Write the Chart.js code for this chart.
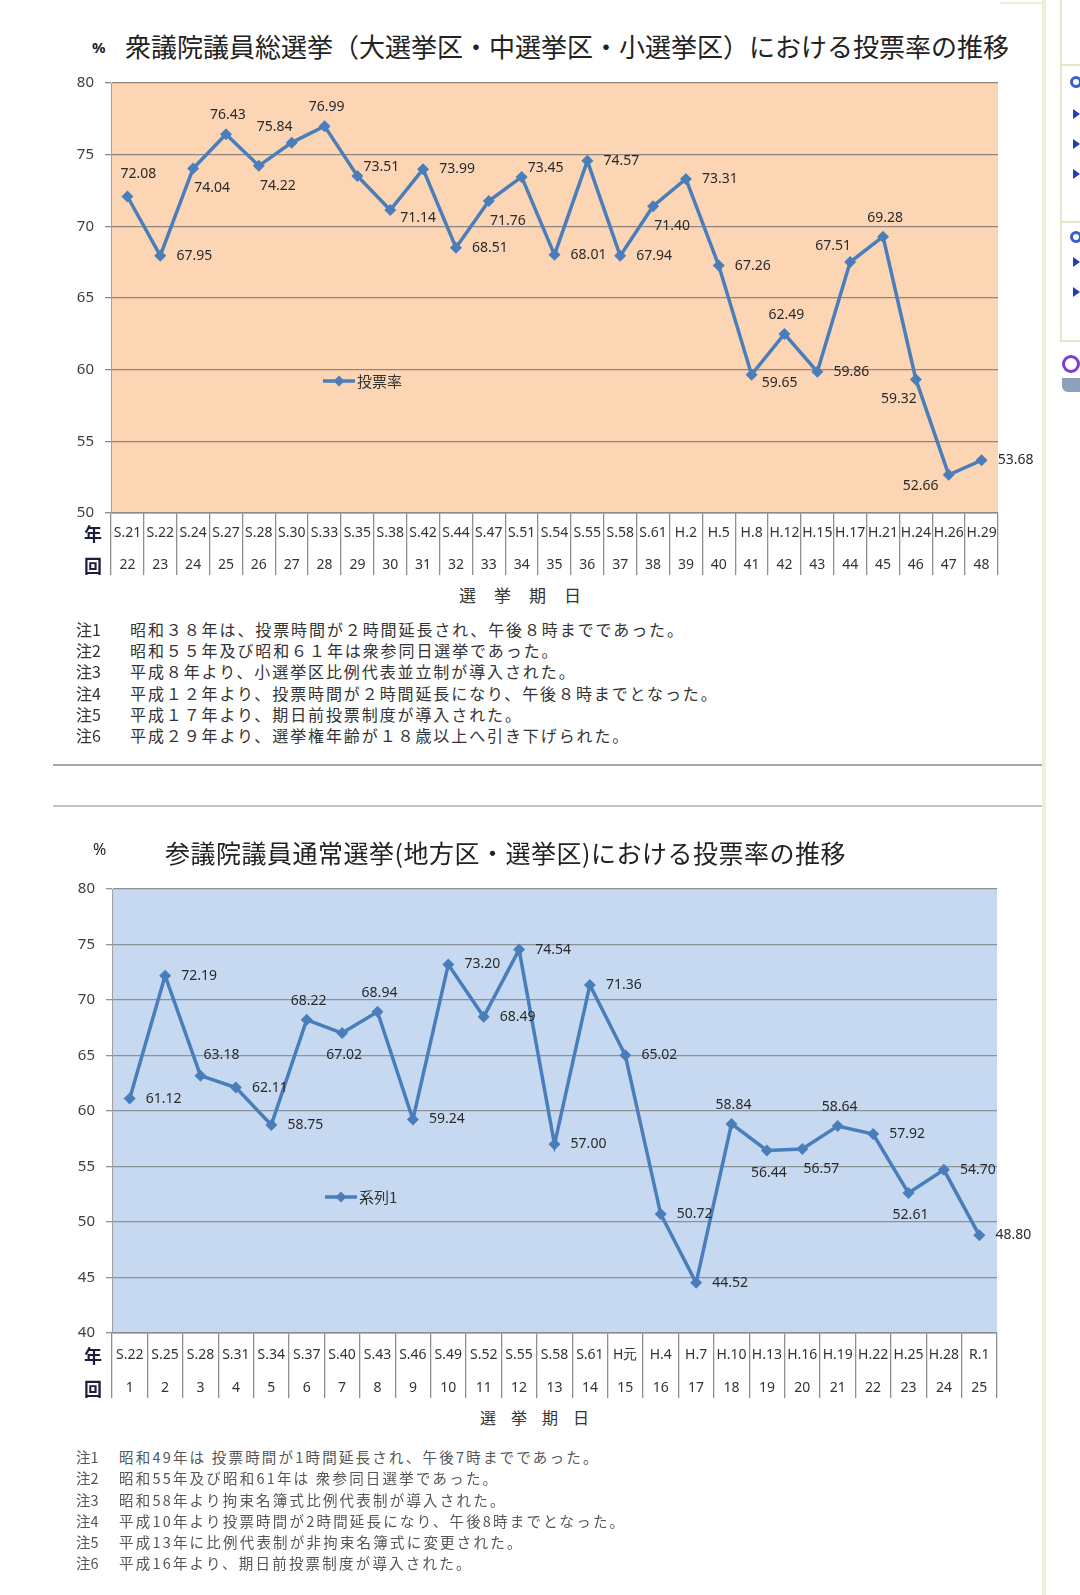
<!DOCTYPE html>
<html>
<head>
<meta charset="utf-8">
<script src="https://cdn.jsdelivr.net/npm/chart.js@4.4.0/dist/chart.umd.min.js"></script>
<style>
  body { margin: 0; background: #fff; width: 1080px; height: 1595px; position: relative; overflow: hidden;
         font-family: "Noto Sans CJK JP", sans-serif; color: #222; }
  .abs { position: absolute; white-space: nowrap; }
  .pct { font-family: "Noto Sans", sans-serif; font-weight: bold; font-size: 15px; }
  .rowhead { font-weight: bold; font-size: 18px; line-height: 22px; color: #1c1c3c; }
  .notes1 div { font-size: 16px; line-height: 21.2px; letter-spacing: 1.9px; color: #333; height: 21.2px; }
  .notes2 div { font-size: 14.5px; line-height: 21.3px; letter-spacing: 2.2px; color: #555; height: 21.3px; }
  .notes1 span, .notes2 span { position: absolute; }
  .box { position: absolute; }
</style>
</head>
<body>

<div class="abs pct" style="left:92px; top:37px;">%</div>
<div class="abs" style="left:125px; top:28px; font-size:26px; line-height:36px;">衆議院議員総選挙（大選挙区・中選挙区・小選挙区）における投票率の推移</div>
<div class="box" style="left:0; top:60px; width:1043px; height:520px;"><canvas id="shuChart"></canvas></div>
<div class="abs rowhead" style="left:84px; top:522px;">年</div>
<div class="abs rowhead" style="left:84px; top:554px;">回</div>
<div class="abs" style="left:459px; top:584px; font-size:17px; line-height:22px; letter-spacing:18px; color:#333;">選挙期日</div>

<div class="abs notes1" style="left:0; top:619px;">
  <div><span style="left:76px; letter-spacing:0;">注1</span><span style="left:130px;">昭和３８年は、投票時間が２時間延長され、午後８時までであった。</span></div>
  <div><span style="left:76px; letter-spacing:0;">注2</span><span style="left:130px;">昭和５５年及び昭和６１年は衆参同日選挙であった。</span></div>
  <div><span style="left:76px; letter-spacing:0;">注3</span><span style="left:130px;">平成８年より、小選挙区比例代表並立制が導入された。</span></div>
  <div><span style="left:76px; letter-spacing:0;">注4</span><span style="left:130px;">平成１２年より、投票時間が２時間延長になり、午後８時までとなった。</span></div>
  <div><span style="left:76px; letter-spacing:0;">注5</span><span style="left:130px;">平成１７年より、期日前投票制度が導入された。</span></div>
  <div><span style="left:76px; letter-spacing:0;">注6</span><span style="left:130px;">平成２９年より、選挙権年齢が１８歳以上へ引き下げられた。</span></div>
</div>

<div class="box" style="left:53px; top:764px; width:990px; height:2px; background:#a8a8a8;"></div>
<div class="box" style="left:53px; top:805px; width:990px; height:2px; background:#c4c4c4;"></div>

<div class="abs pct" style="left:93px; top:838px; font-weight:normal; font-size:16px;">%</div>
<div class="abs" style="left:165px; top:836px; font-size:25px; line-height:32px; letter-spacing:0.5px;">参議院議員通常選挙(地方区・選挙区)における投票率の推移</div>
<div class="box" style="left:0; top:860px; width:1043px; height:543px;"><canvas id="sanChart"></canvas></div>
<div class="abs rowhead" style="left:84px; top:1344px;">年</div>
<div class="abs rowhead" style="left:84px; top:1377px;">回</div>
<div class="abs" style="left:480px; top:1406px; font-size:16px; line-height:22px; letter-spacing:15px; color:#333;">選挙期日</div>

<div class="abs notes2" style="left:0; top:1446px;">
  <div><span style="left:76px; letter-spacing:0;">注1</span><span style="left:119px;">昭和49年は 投票時間が1時間延長され、午後7時までであった。</span></div>
  <div><span style="left:76px; letter-spacing:0;">注2</span><span style="left:119px;">昭和55年及び昭和61年は 衆参同日選挙であった。</span></div>
  <div><span style="left:76px; letter-spacing:0;">注3</span><span style="left:119px;">昭和58年より拘束名簿式比例代表制が導入された。</span></div>
  <div><span style="left:76px; letter-spacing:0;">注4</span><span style="left:119px;">平成10年より投票時間が2時間延長になり、午後8時までとなった。</span></div>
  <div><span style="left:76px; letter-spacing:0;">注5</span><span style="left:119px;">平成13年に比例代表制が非拘束名簿式に変更された。</span></div>
  <div><span style="left:76px; letter-spacing:0;">注6</span><span style="left:119px;">平成16年より、期日前投票制度が導入された。</span></div>
</div>

<!-- right page frame / sidebar -->
<div class="box" style="left:1042px; top:0; width:4px; height:1595px; background:#efefd8;"></div>
<div class="box" style="left:1000px; top:2px; width:43px; height:2px; background:#efefd8;"></div>
<div class="box" style="left:1060px; top:0; width:20px; height:340px; border-left:2px solid #e6e6c8; border-bottom:2px solid #e6e6c8;"></div>
<div class="box" style="left:1060px; top:64px; width:20px; height:2px; background:#e6e6c8;"></div>
<div class="box" style="left:1060px; top:221px; width:20px; height:2px; background:#e6e6c8;"></div>
<div class="box" style="left:1070px; top:76px; width:12px; height:12px; border-radius:50%; border:3px solid #3a5fcd; box-sizing:border-box;"></div>
<div class="box" style="left:1070px; top:231px; width:12px; height:12px; border-radius:50%; border:3px solid #3a5fcd; box-sizing:border-box;"></div>
<div class="box" style="left:1062px; top:355px; width:18px; height:18px; border-radius:50%; border:3px solid #7a3fd0; box-sizing:border-box;"></div>
<div class="box" style="left:1062px; top:378px; width:18px; height:14px; background:#8da0bc; border-radius:0 0 0 6px;"></div>
<div id="arrows"></div>

<script>
// 衆議院
const shuYears = ['S.21','S.22','S.24','S.27','S.28','S.30','S.33','S.35','S.38','S.42','S.44','S.47','S.51','S.54',
                  'S.55','S.58','S.61','H.2','H.5','H.8','H.12','H.15','H.17','H.21','H.24','H.26','H.29'];
const shuRounds = ['22','23','24','25','26','27','28','29','30','31','32','33','34','35',
                   '36','37','38','39','40','41','42','43','44','45','46','47','48'];
const shuRates = [72.08, 67.95, 74.04, 76.43, 74.22, 75.84, 76.99, 73.51, 71.14, 73.99, 68.51, 71.76, 73.45, 68.01,
                  74.57, 67.94, 71.40, 73.31, 67.26, 59.65, 62.49, 59.86, 67.51, 69.28, 59.32, 52.66, 53.68];
const shuLabelPos = ['a1','r','br','a','br','al','a','ra','rb','r','r','br','ra','r',
                     'r','r','br','r','r','rb','a','r','al','a','bl','bl2','r'];

// 参議院
const sanYears = ['S.22','S.25','S.28','S.31','S.34','S.37','S.40','S.43','S.46','S.49','S.52','S.55','S.58',
                  'S.61','H元','H.4','H.7','H.10','H.13','H.16','H.19','H.22','H.25','H.28','R.1'];
const sanRounds = ['1','2','3','4','5','6','7','8','9','10','11','12','13',
                   '14','15','16','17','18','19','20','21','22','23','24','25'];
const sanRates = [61.12, 72.19, 63.18, 62.11, 58.75, 68.22, 67.02, 68.94, 59.24, 73.20, 68.49, 74.54, 57.00,
                  71.36, 65.02, 50.72, 44.52, 58.84, 56.44, 56.57, 58.64, 57.92, 52.61, 54.70, 48.80];
const sanLabelPos = ['r','r','ar','r','r','a','b','a','r','r','r','r','r',
                     'r','r','r','r','a','b','br','a','r','b','r','r'];

const OFFSETS = {
  a: [2, -19], a1: [11, -23], b: [2, 22], r: [34, 0], ra: [24, -9], rb: [28, 8], br: [19, 20],
  al: [-17, -16], bl: [-17, 20], bl2: [-28, 11], ar: [21, -21]
};

const LINE_BLUE = '#4a7ebb';

Chart.defaults.font.family = '"Noto Sans", sans-serif';
Chart.defaults.animation = false;

// sidebar arrows
const arrowYs = [109, 139, 169, 257, 287];
document.getElementById('arrows').innerHTML = arrowYs.map(y =>
  '<div class="box" style="left:1073px; top:' + y + 'px; width:0; height:0; border-top:5px solid transparent; border-bottom:5px solid transparent; border-left:7px solid #1f3fb8;"></div>'
).join('');

const plotBg = {
  id: 'plotBg',
  beforeDraw(chart, args, o) {
    const { ctx, chartArea: a } = chart;
    ctx.save();
    ctx.fillStyle = o.color;
    ctx.fillRect(a.left, a.top, a.right - a.left, a.bottom - a.top);
    ctx.restore();
  }
};

const valueLabels = {
  id: 'valueLabels',
  afterDatasetsDraw(chart, args, o) {
    const ctx = chart.ctx;
    const meta = chart.getDatasetMeta(0);
    const data = chart.data.datasets[0].data;
    ctx.save();
    ctx.font = '14px "Noto Sans", sans-serif';
    ctx.fillStyle = '#2a2a2a';
    ctx.textAlign = 'center';
    ctx.textBaseline = 'middle';
    meta.data.forEach((pt, i) => {
      const off = OFFSETS[o.pos[i]] || OFFSETS.r;
      ctx.fillText(data[i].toFixed(2), pt.x + off[0], pt.y + off[1]);
    });
    ctx.restore();
  }
};

const innerLegend = {
  id: 'innerLegend',
  afterDatasetsDraw(chart, args, o) {
    const { ctx, chartArea: a } = chart;
    const x = a.left + o.x, y = a.top + o.y;
    ctx.save();
    ctx.strokeStyle = LINE_BLUE;
    ctx.lineWidth = 3.5;
    ctx.beginPath();
    ctx.moveTo(x, y);
    ctx.lineTo(x + 32, y);
    ctx.stroke();
    ctx.fillStyle = LINE_BLUE;
    ctx.beginPath();
    ctx.moveTo(x + 16, y - 5.5);
    ctx.lineTo(x + 21.5, y);
    ctx.lineTo(x + 16, y + 5.5);
    ctx.lineTo(x + 10.5, y);
    ctx.closePath();
    ctx.fill();
    ctx.font = '15px "Noto Sans CJK JP", sans-serif';
    ctx.fillStyle = '#333';
    ctx.textBaseline = 'middle';
    ctx.fillText(chart.data.datasets[0].label, x + 34, y);
    ctx.restore();
  }
};

function createChart(canvas, years, rounds, rates, cfg) {
  return new Chart(canvas, {
    type: 'line',
    data: {
      labels: years.map((y, i) => [y, rounds[i]]),
      datasets: [{
        label: cfg.name,
        data: rates,
        borderColor: LINE_BLUE,
        borderWidth: 3.5,
        backgroundColor: LINE_BLUE,
        pointStyle: 'rectRot',
        pointRadius: 6,
        pointBorderWidth: 0,
        pointBackgroundColor: LINE_BLUE,
        tension: 0
      }]
    },
    options: {
      responsive: true,
      maintainAspectRatio: false,
      layout: { padding: { left: 0, right: cfg.padRight, top: cfg.padTop, bottom: 5 } },
      plugins: {
        legend: { display: false },
        tooltip: { enabled: false },
        plotBg: { color: cfg.bg },
        valueLabels: { pos: cfg.labelPos },
        innerLegend: { x: cfg.legendX, y: cfg.legendY }
      },
      scales: {
        x: {
          offset: true,
          grid: { offset: true, drawOnChartArea: false, tickLength: cfg.tableH, color: '#8f8f8f', lineWidth: 1.3 },
          border: { display: true, color: '#8a8a8a', width: 1.5 },
          ticks: {
            autoSkip: false, maxRotation: 0, minRotation: 0,
            padding: cfg.tickPad, color: '#333',
            font: { size: 14, lineHeight: cfg.rowH / 14 }
          },
          afterFit: s => { s.height = cfg.tableH; }
        },
        y: {
          min: cfg.min, max: cfg.max,
          ticks: { stepSize: 5, padding: 11, color: '#404040', font: { size: 15 } },
          grid: { color: cfg.gridColor, lineWidth: 1.3, tickLength: 6 },
          border: { display: true, color: '#a0a0a0', width: 1 },
          afterFit: s => { s.width = cfg.axisW; }
        }
      }
    },
    plugins: [plotBg, valueLabels, innerLegend]
  });
}

createChart(document.getElementById('shuChart'), shuYears, shuRounds, shuRates, {
  name: '投票率', bg: '#fcd5b4', gridColor: '#8f857e', labelPos: shuLabelPos,
  min: 50, max: 80, axisW: 111, padRight: 45, padTop: 23,
  tableH: 62, rowH: 32, tickPad: -58, legendX: 212, legendY: 298
});

createChart(document.getElementById('sanChart'), sanYears, sanRounds, sanRates, {
  name: '系列1', bg: '#c6d9f1', gridColor: '#8a929c', labelPos: sanLabelPos,
  min: 40, max: 80, axisW: 112, padRight: 46, padTop: 29,
  tableH: 65, rowH: 33, tickPad: -59.5, legendX: 213, legendY: 308
});
</script>
</body>
</html>
